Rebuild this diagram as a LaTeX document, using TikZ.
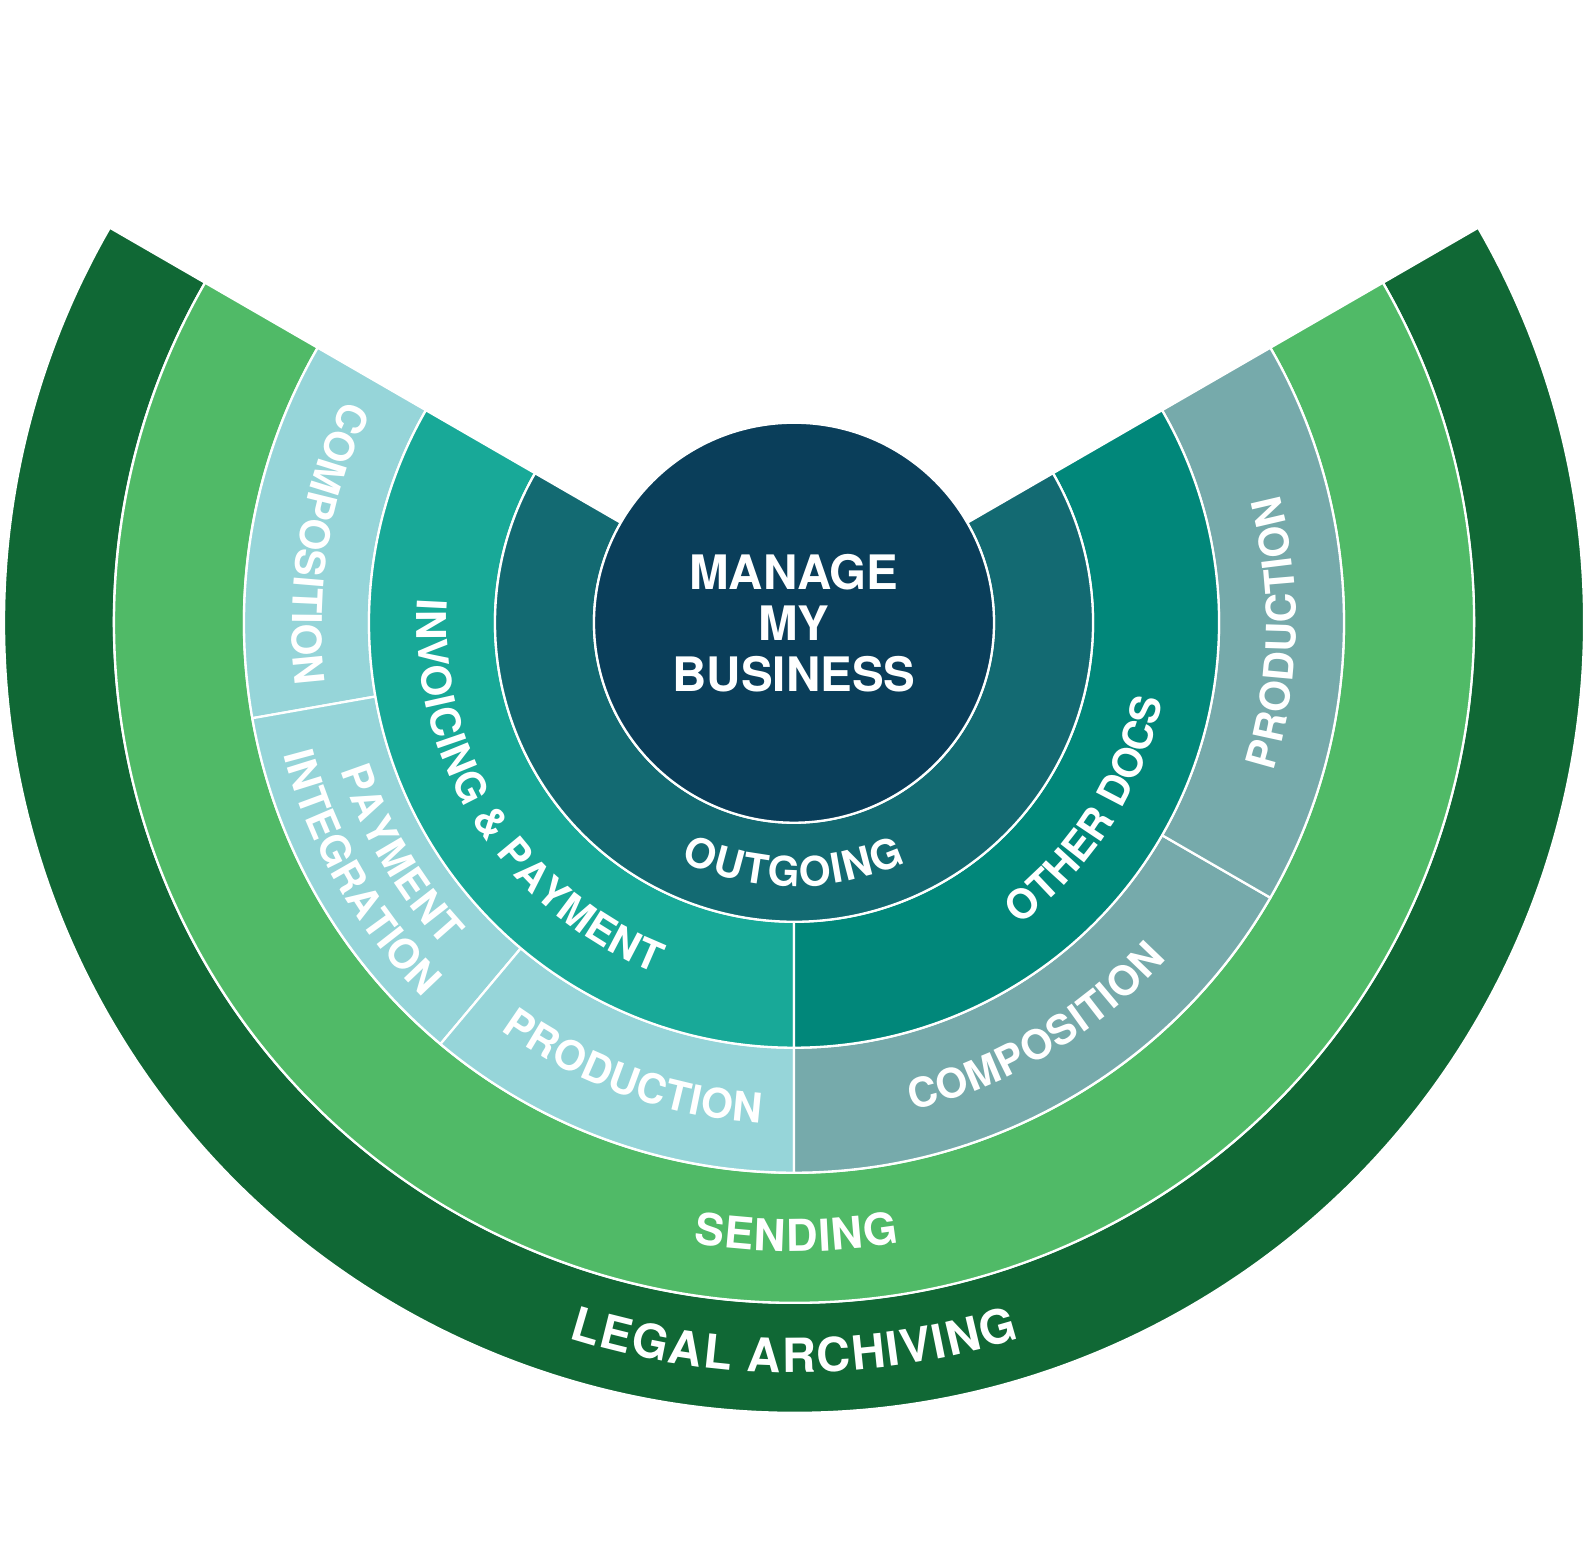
\documentclass[tikz,border=0pt]{standalone}
\usepackage{fontspec}
\setmainfont{TeX Gyre Heros}
\usetikzlibrary{decorations.text}

\definecolor{corenavy}{HTML}{0A3E5A}
\definecolor{outgoingteal}{HTML}{136A72}
\definecolor{invoiceteal}{HTML}{18A998}
\definecolor{docsteal}{HTML}{01877A}
\definecolor{lightaqua}{HTML}{96D5D9}
\definecolor{greyteal}{HTML}{76AAAB}
\definecolor{sendgreen}{HTML}{50BA67}
\definecolor{archivegreen}{HTML}{106835}

\tikzset{
  ring/.style={draw=white, line width=2.3},
  core/.style={text=white, align=center, inner sep=0, font=\fontsize{47.5}{51}\selectfont\bfseries},
}

\newcommand{\ringfont}{\fontsize{41}{48}\selectfont\bfseries}
\newcommand{\sendfont}{\fontsize{44}{48}\selectfont\bfseries}
\newcommand{\archivefont}{\fontsize{47}{48}\selectfont\bfseries}

\newcommand{\ringpart}[5]{%
  \filldraw[ring, fill=#1] (#4:#2) arc[start angle=#4, end angle=#5, radius=#2]
    -- (#5:#3) arc[start angle=#5, end angle=#4, radius=#3] -- cycle;}
\newcommand{\ringlabel}[4]{%
  \path[decorate, decoration={text along path, text align=fit to path, text color=white,
    text={#4}}] (#2:#1) arc[start angle=#2, end angle=#3, radius=#1];}

\begin{document}
\begin{tikzpicture}[x=1pt, y=1pt]
\useasboundingbox (-794,-920.3) rectangle (796,622.7);
\ringpart{archivegreen}{680}{790}{150}{390}
\ringpart{sendgreen}{550}{680}{150}{390}
\ringpart{lightaqua}{425}{550}{150}{190}
\ringpart{lightaqua}{425}{550}{190}{230}
\ringpart{lightaqua}{425}{550}{230}{270}
\ringpart{greyteal}{425}{550}{270}{330}
\ringpart{greyteal}{425}{550}{330}{390}
\ringpart{invoiceteal}{299}{425}{150}{270}
\ringpart{docsteal}{299}{425}{270}{390}
\ringpart{outgoingteal}{200}{299}{150}{390}
\filldraw[ring, fill=corenavy] (0,0) circle[radius=200];
\node[core] (business) at (0,0) {MANAGE\\MY\\BUSINESS};
\ringlabel{264}{244.5}{295}{|\ringfont|OUTGOING}
\ringlabel{377}{176.3}{248.4}{|\ringfont|INVOICING {\&} PAYMENT}
\ringlabel{377}{306.7}{348.2}{|\ringfont|OTHER DOCS}
\ringlabel{502}{153.6}{187.2}{|\ringfont|COMPOSITION}
\ringlabel{477}{198}{222.8}{|\ringfont|PAYMENT}
\ringlabel{527}{194.5}{225.3}{|\ringfont|INTEGRATION}
\ringlabel{502}{234.2}{266.2}{|\ringfont|PRODUCTION}
\ringlabel{502}{283.6}{317.9}{|\ringfont|COMPOSITION}
\ringlabel{502}{342.8}{374.8}{|\ringfont|PRODUCTION}
\ringlabel{629}{260.8}{279.6}{|\sendfont|SENDING}
\ringlabel{750}{252.5}{287.5}{|\archivefont|LEGAL ARCHIVING}
\end{tikzpicture}
\end{document}
